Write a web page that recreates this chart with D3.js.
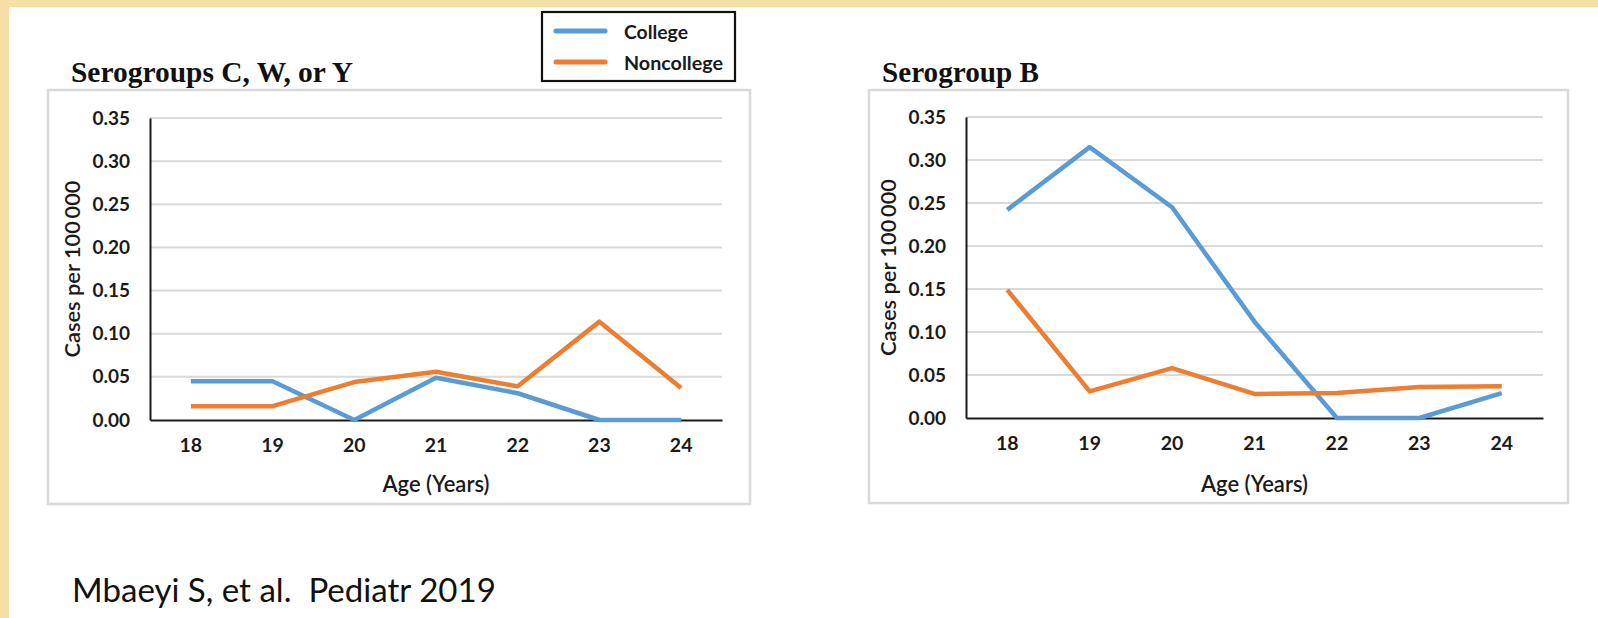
<!DOCTYPE html>
<html>
<head>
<meta charset="utf-8">
<script src="https://cdn.jsdelivr.net/npm/d3@7"></script>
<style>
  html, body { margin: 0; padding: 0; background: #ffffff; }
  svg { display: block; }
</style>
</head>
<body>
<svg id="fig" width="1598" height="618"></svg>
<script>
// ---- data -------------------------------------------------------------
const ages = [18, 19, 20, 21, 22, 23, 24];
const yTicks = [0, 0.05, 0.10, 0.15, 0.20, 0.25, 0.30, 0.35];
const seriesNames = ["College", "Noncollege"];

// Serogroups C, W, or Y — cases per 100 000 by age
const cwyCollege    = [0.045, 0.045, 0.000, 0.049, 0.031, 0.000, 0.000];
const cwyNoncollege = [0.016, 0.016, 0.044, 0.056, 0.039, 0.114, 0.037];

// Serogroup B — cases per 100 000 by age
const bCollege    = [0.242, 0.315, 0.245, 0.112, 0.000, 0.000, 0.029];
const bNoncollege = [0.149, 0.031, 0.058, 0.028, 0.029, 0.036, 0.037];

const panelTitles = ["Serogroups C, W, or Y", "Serogroup B"];
const xTitle = "Age (Years)";
const yTitle = "Cases per 100\u2009000";
const citation = "Mbaeyi S, et al.  Pediatr 2019";

// ---- styling ----------------------------------------------------------
const colors = { College: "#5b9bd5", Noncollege: "#ed7d31" };
const sansFont = "Lato, 'Open Sans', 'Liberation Sans', sans-serif";
const serifFont = "'Liberation Serif', 'DejaVu Serif', serif";
const beige = "#f6dfa7";

const svg = d3.select("#fig");

// scale a text element's font size so it spans the given width
function fitWidth(sel, w) {
  const fs = parseFloat(sel.attr("font-size"));
  const len = sel.node().getComputedTextLength();
  if (len > 0) sel.attr("font-size", (fs * w / len).toFixed(2));
  return sel;
}

// page frame
svg.append("rect").attr("x", 0).attr("y", 0).attr("width", 1598).attr("height", 618).attr("fill", "#ffffff");
svg.append("rect").attr("x", 0).attr("y", 0).attr("width", 1598).attr("height", 7).attr("fill", beige);
svg.append("rect").attr("x", 0).attr("y", 0).attr("width", 9).attr("height", 618).attr("fill", beige);

// ---- panels -----------------------------------------------------------
const panels = [
  {
    title: panelTitles[0], titleX: 71, titleW: 282,
    frame: { x: 48, y: 90, w: 702, h: 414 },
    plot: { x0: 150, x1: 722, y0: 118, y1: 420 },
    yTitleX: 71,
    series: [cwyCollege, cwyNoncollege]
  },
  {
    title: panelTitles[1], titleX: 882, titleW: 157,
    frame: { x: 869, y: 90, w: 699, h: 413 },
    plot: { x0: 966, x1: 1543, y0: 117, y1: 418 },
    yTitleX: 887,
    series: [bCollege, bNoncollege]
  }
];

panels.forEach(p => {
  const g = svg.append("g");
  const f = p.frame, pl = p.plot;

  // chart area border
  g.append("rect")
    .attr("x", f.x).attr("y", f.y).attr("width", f.w).attr("height", f.h)
    .attr("fill", "#ffffff").attr("stroke", "#d9d9d9").attr("stroke-width", 2.5);

  // panel title
  const t = g.append("text")
    .attr("x", p.titleX).attr("y", 82)
    .attr("font-family", serifFont).attr("font-weight", 700)
    .attr("font-size", 28).attr("fill", "#111")
    .text(p.title);
  fitWidth(t, p.titleW);

  const x = d3.scaleBand().domain(ages).range([pl.x0, pl.x1]).paddingInner(0).paddingOuter(0);
  const y = d3.scaleLinear().domain([0, 0.35]).range([pl.y1, pl.y0]);
  const cx = a => x(a) + x.bandwidth() / 2;

  // horizontal gridlines
  g.append("g")
    .selectAll("line")
    .data(yTicks.filter(v => v > 0))
    .join("line")
    .attr("x1", pl.x0).attr("x2", pl.x1)
    .attr("y1", d => y(d)).attr("y2", d => y(d))
    .attr("stroke", "#d9d9d9").attr("stroke-width", 2);

  // y axis with tick labels
  const yAxis = g.append("g")
    .attr("transform", `translate(${pl.x0},0)`)
    .call(d3.axisLeft(y).tickValues(yTicks).tickFormat(d3.format(".2f")).tickSize(0).tickPadding(20));
  yAxis.select(".domain").attr("stroke", "#1a1a1a").attr("stroke-width", 2);
  yAxis.selectAll("text")
    .attr("font-family", sansFont).attr("font-weight", 700)
    .attr("font-size", 19).attr("fill", "#1a1a1a");

  // x axis with category labels
  const xAxis = g.append("g")
    .attr("transform", `translate(0,${pl.y1})`)
    .call(d3.axisBottom(x).tickSize(0).tickPadding(18));
  xAxis.select(".domain").attr("stroke", "#1a1a1a").attr("stroke-width", 2);
  xAxis.selectAll("text")
    .attr("font-family", sansFont).attr("font-weight", 700)
    .attr("font-size", 19.5).attr("fill", "#1a1a1a");

  // axis titles
  const xt = g.append("text")
    .attr("x", (pl.x0 + pl.x1) / 2).attr("y", 483)
    .attr("text-anchor", "middle").attr("dominant-baseline", "central")
    .attr("font-family", sansFont).attr("font-weight", 600)
    .attr("font-size", 19).attr("fill", "#1a1a1a")
    .text(xTitle);
  fitWidth(xt, 107);

  const yt = g.append("text")
    .attr("transform", `translate(${p.yTitleX},${(pl.y0 + pl.y1) / 2}) rotate(-90)`)
    .attr("text-anchor", "middle").attr("dominant-baseline", "central")
    .attr("font-family", sansFont).attr("font-weight", 600)
    .attr("font-size", 19).attr("fill", "#1a1a1a")
    .text(yTitle);
  fitWidth(yt, 177);

  // series lines
  const line = d3.line().x((d, i) => cx(ages[i])).y(d => y(d));
  p.series.forEach((vals, k) => {
    g.append("path")
      .datum(vals)
      .attr("d", line)
      .attr("fill", "none")
      .attr("stroke", colors[seriesNames[k]])
      .attr("stroke-width", 4.5)
      .attr("stroke-linejoin", "round");
  });
});

// ---- legend -----------------------------------------------------------
const lg = svg.append("g");
lg.append("rect")
  .attr("x", 542).attr("y", 12).attr("width", 193).attr("height", 69)
  .attr("fill", "#ffffff").attr("stroke", "#111").attr("stroke-width", 2.2);
const legendRows = [31, 62];
const legendWidths = [64, 99];
seriesNames.forEach((name, i) => {
  lg.append("line")
    .attr("x1", 556).attr("x2", 605)
    .attr("y1", legendRows[i]).attr("y2", legendRows[i])
    .attr("stroke", colors[name]).attr("stroke-width", 5)
    .attr("stroke-linecap", "round");
  const lt = lg.append("text")
    .attr("x", 624).attr("y", legendRows[i])
    .attr("dominant-baseline", "central")
    .attr("font-family", sansFont).attr("font-weight", 700)
    .attr("font-size", 19).attr("fill", "#1a1a1a")
    .text(name);
  fitWidth(lt, legendWidths[i]);
});

// ---- citation ---------------------------------------------------------
const ct = svg.append("text")
  .attr("x", 72).attr("y", 602)
  .style("white-space", "pre")
  .attr("font-family", sansFont).attr("font-weight", 400)
  .attr("font-size", 28).attr("fill", "#111")
  .text(citation);
fitWidth(ct, 424);
</script>
</body>
</html>
